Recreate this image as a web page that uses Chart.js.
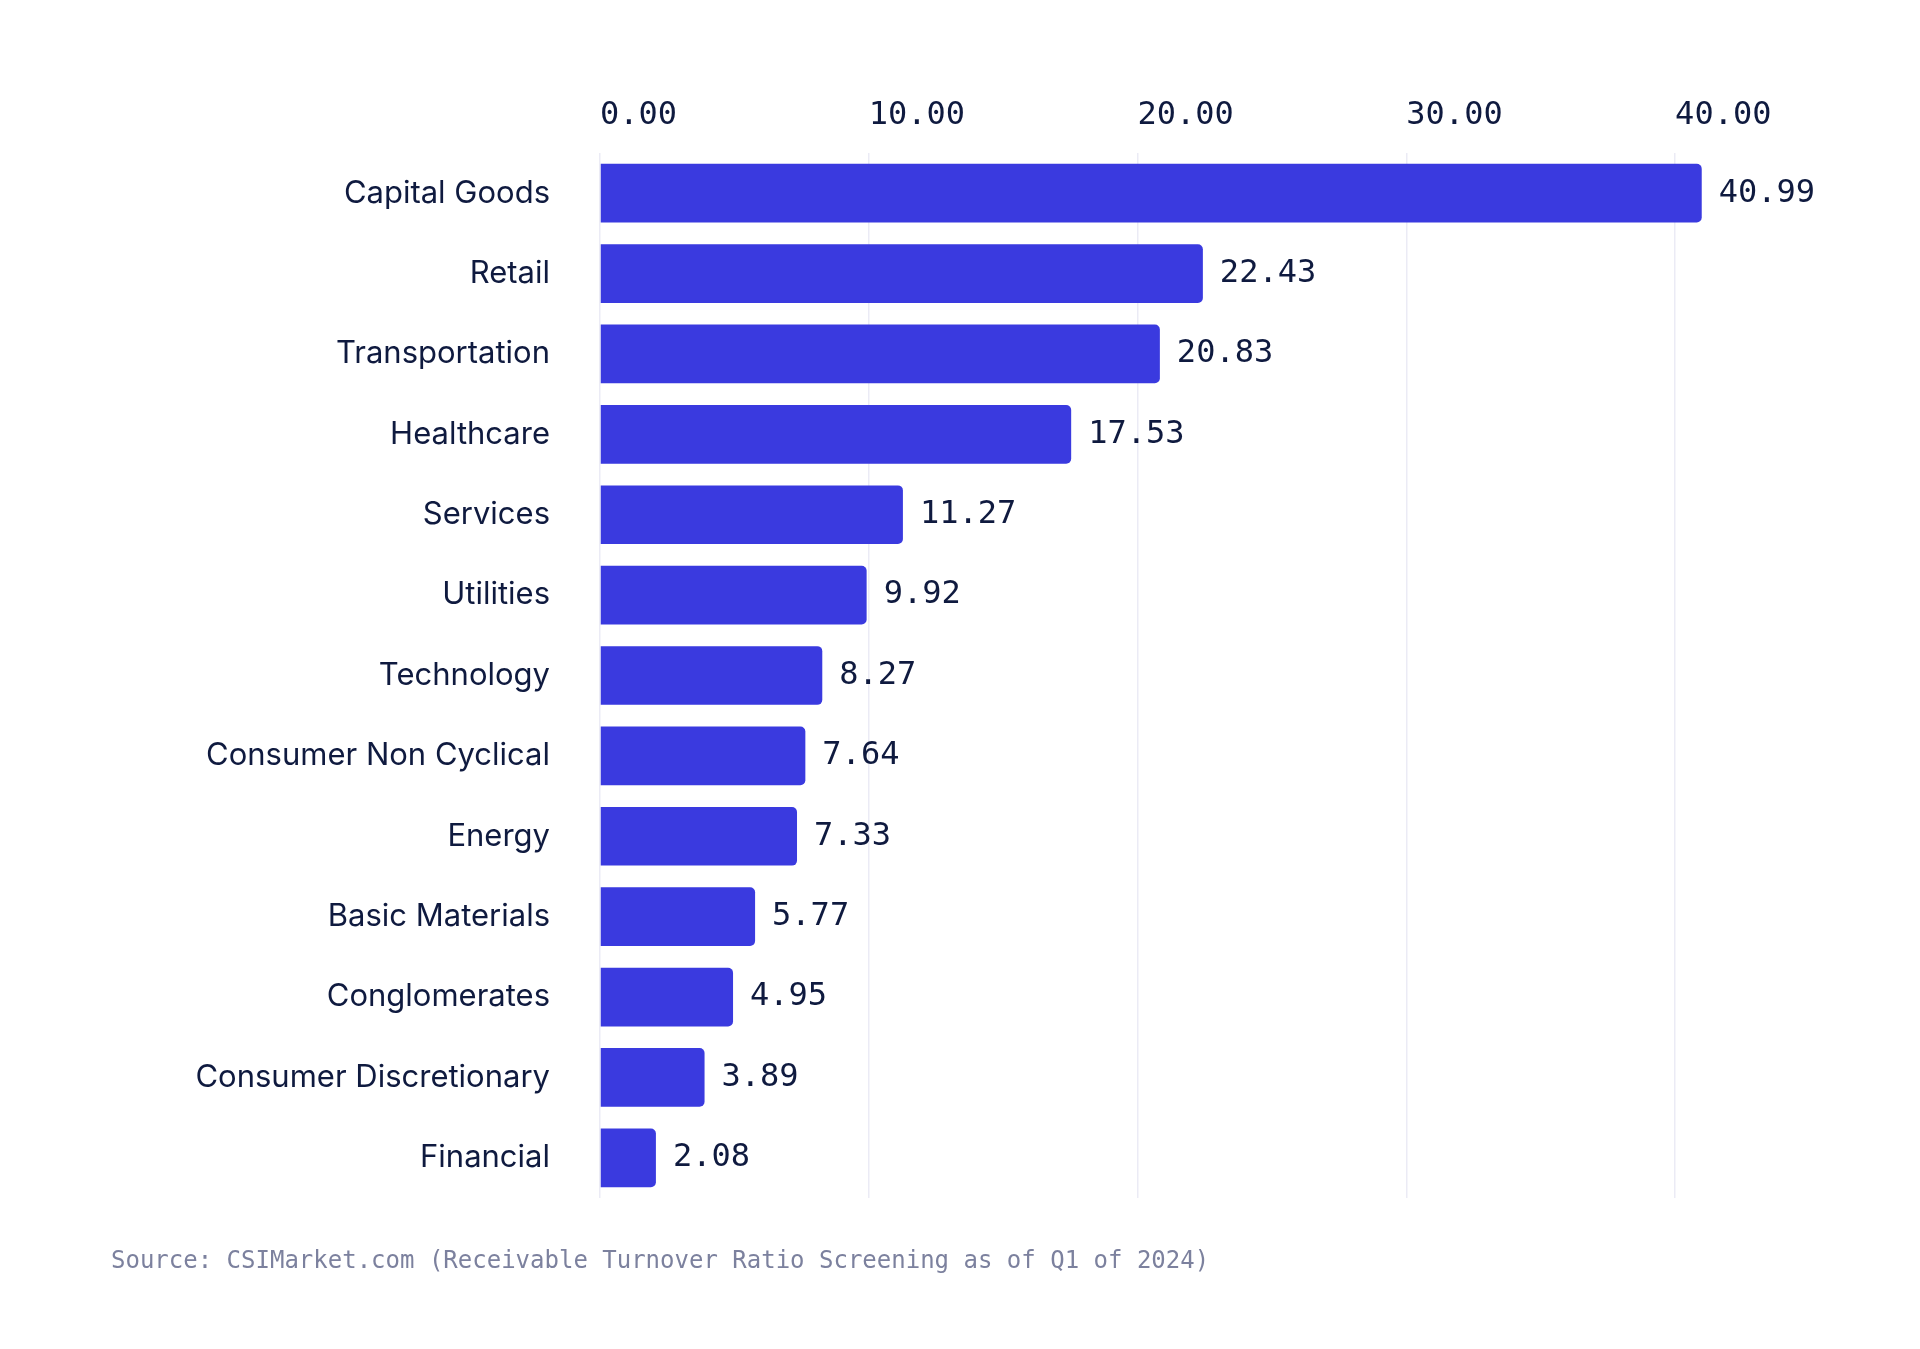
<!DOCTYPE html>
<html>
<head>
<meta charset="utf-8">
<script src="https://cdn.jsdelivr.net/npm/chart.js@4"></script>
<style>
  body { margin: 0; background: #fff; }
  #wrap { position: relative; width: 1920px; height: 1349px; }
  #source {
    position: absolute; left: 111px; top: 1246px;
    font-family: "DejaVu Sans Mono", monospace; font-size: 24px; color: #7c819e;
  }
</style>
</head>
<body>
<div id="wrap">
  <canvas id="chart" width="1920" height="1349"></canvas>
  <div id="source">Source: CSIMarket.com (Receivable Turnover Ratio Screening as of Q1 of 2024)</div>
</div>
<script>
// Sectors and their receivable turnover ratios
const sectors = ["Capital Goods", "Retail", "Transportation", "Healthcare", "Services", "Utilities",
  "Technology", "Consumer Non Cyclical", "Energy", "Basic Materials", "Conglomerates",
  "Consumer Discretionary", "Financial"];
const ratios = [40.99, 22.43, 20.83, 17.53, 11.27, 9.92, 8.27, 7.64, 7.33, 5.77, 4.95, 3.89, 2.08];
const tickValues = [0, 10, 20, 30, 40];

const textColor = "#0f1a3f";
const monoFont = "'DejaVu Sans Mono', monospace";

// Draws the value at the end of each bar
const valueLabels = {
  id: "valueLabels",
  afterDatasetsDraw(chart) {
    const ctx = chart.ctx;
    const meta = chart.getDatasetMeta(0);
    ctx.save();
    ctx.font = "32px " + monoFont;
    ctx.fillStyle = textColor;
    ctx.textBaseline = "middle";
    meta.data.forEach((bar, i) => {
      ctx.fillText(ratios[i].toFixed(2), bar.x + 17, bar.y);
    });
    ctx.restore();
  },
};

new Chart(document.getElementById("chart").getContext("2d"), {
  type: "bar",
  data: {
    labels: sectors,
    datasets: [
      {
        data: ratios,
        backgroundColor: "#3a3adf",
        borderRadius: { topLeft: 0, bottomLeft: 0, topRight: 5, bottomRight: 5 },
        borderSkipped: false,
        categoryPercentage: 0.73,
        barPercentage: 1,
      },
    ],
  },
  options: {
    indexAxis: "y",
    responsive: false,
    animation: false,
    layout: { padding: { left: 0, right: 218, top: 0, bottom: 151 } },
    plugins: { legend: { display: false }, tooltip: { enabled: false } },
    scales: {
      x: {
        position: "top",
        min: 0,
        max: 41,
        afterBuildTicks: (scale) => {
          scale.ticks = tickValues.map((v) => ({ value: v }));
        },
        afterFit: (scale) => { scale.height = 153; },
        border: { display: false },
        grid: { color: "#ebebf5", lineWidth: 1.5, drawTicks: false },
        ticks: {
          padding: 18,
          color: textColor,
          font: { family: monoFont, size: 32 },
          align: "start",
          callback: (v) => Number(v).toFixed(2),
        },
      },
      y: {
        afterFit: (scale) => { scale.width = 600; },
        border: { display: false },
        grid: { display: false },
        ticks: {
          padding: 42,
          color: textColor,
          font: { family: "Inter", size: 31 },
        },
      },
    },
  },
  plugins: [valueLabels],
});
</script>
</body>
</html>
